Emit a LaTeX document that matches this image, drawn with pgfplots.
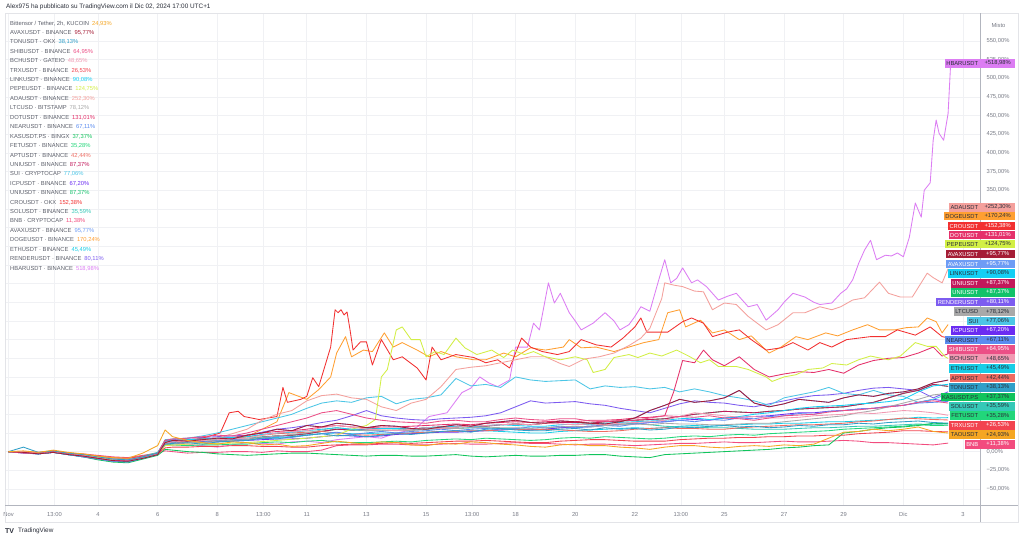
\documentclass[border=0pt]{standalone}
\usepackage{fontspec}
\setmainfont{Liberation Sans}
\usepackage{pgfplots}
\usepackage{pgfplotstable}
\pgfplotsset{compat=1.18}

\definecolor{cTAO}{HTML}{F5A623}
\definecolor{cAVAXr}{HTML}{A51D36}
\definecolor{cAVAXb}{HTML}{6E9CF5}
\definecolor{cTON}{HTML}{2F9FC8}
\definecolor{cSHIB}{HTML}{EC4F86}
\definecolor{cBCH}{HTML}{F199B2}
\definecolor{cTRX}{HTML}{F2434F}
\definecolor{cLINK}{HTML}{14CFF5}
\definecolor{cPEPE}{HTML}{D2EF45}
\definecolor{cADA}{HTML}{F4A09C}
\definecolor{cLTC}{HTML}{A9A9A9}
\definecolor{cDOT}{HTML}{E5306A}
\definecolor{cNEAR}{HTML}{5B8CF0}
\definecolor{cKAS}{HTML}{10C45C}
\definecolor{cFET}{HTML}{22D67A}
\definecolor{cAPT}{HTML}{EF6B61}
\definecolor{cUNIr}{HTML}{C2185B}
\definecolor{cSUI}{HTML}{4CC6E6}
\definecolor{cICP}{HTML}{6B2CF2}
\definecolor{cUNIg}{HTML}{12C26A}
\definecolor{cCRO}{HTML}{F23030}
\definecolor{cSOL}{HTML}{35C9B7}
\definecolor{cBNB}{HTML}{F24C7E}
\definecolor{cDOGE}{HTML}{FF9F31}
\definecolor{cETH}{HTML}{17CDE6}
\definecolor{cRENDER}{HTML}{7D5CF0}
\definecolor{cHBAR}{HTML}{DC7DF3}
\definecolor{gridc}{HTML}{F0F1F4}
\definecolor{framec}{HTML}{E3E4E8}
\definecolor{axisc}{HTML}{B2B5BE}
\definecolor{labc}{HTML}{787B86}
\definecolor{legc}{HTML}{5D606B}
\definecolor{titlec}{HTML}{2A2E39}

\newcommand\tvf{\fontsize{5.8}{7}\selectfont}

% ---- data: % change since 1 Nov, x = days since 1 Nov 00:00 ----
\pgfplotstableread[row sep=\\]{d v\\0 0\\0.5 1\\1 -1\\1.5 2\\2 -1\\2.5 -3\\3 -6\\3.5 -8\\4 -9\\4.5 -2\\5 8\\5.25 29\\5.5 20\\6 15\\6.5 12\\7 10\\7.5 13\\8 12\\8.5 9\\9 10\\9.5 7\\10 8\\10.5 11\\11 14\\11.5 12\\12 10\\12.5 13\\13 12\\13.5 9\\14 8\\14.5 11\\15 10\\15.5 13\\16 12\\16.5 10\\17 9\\17.5 7\\18 6\\18.5 9\\19 10\\19.5 8\\20 8\\20.5 6\\21 5\\21.5 3\\22 6\\22.5 8\\23 8\\23.5 6\\24 5\\24.5 7\\25 8\\25.5 7\\26 9\\26.5 8\\27 10\\27.5 18\\28 26\\28.5 27\\29 30\\29.5 28\\30 30\\30.5 33\\31 27\\31.5 24.9\\}\tTAO
\pgfplotstableread[row sep=\\]{d v\\0 0\\0.5 -1\\1 -3\\1.5 -1\\2 -4\\2.5 -6\\3 -9\\3.5 -12\\4 -13\\4.5 -9\\5 -4\\5.25 12\\5.5 15\\6 14\\6.5 16\\7 18\\7.5 17\\8 22\\8.5 25\\9 30\\9.5 28\\10 35\\10.5 33\\11 38\\11.5 36\\12 32\\12.5 35\\13 34\\13.5 31\\14 30\\14.5 33\\15 36\\15.5 34\\16 38\\16.5 40\\17 42\\17.5 39\\18 38\\18.5 41\\19 40\\19.5 38\\20 37\\20.5 40\\21 45\\21.5 55\\22 62\\22.5 70\\23 66\\23.5 68\\24 72\\24.5 82\\25 65\\25.5 60\\26 64\\26.5 70\\27 68\\27.5 66\\28 72\\28.5 76\\29 74\\29.5 78\\30 80\\30.5 84\\31 92\\31.5 95.8\\}\tAVAX
\pgfplotstableread[row sep=\\]{d v\\0 0\\0.5 6\\1 -1\\1.5 1\\2 -2\\2.5 -4\\3 -7\\3.5 -10\\4 -11\\4.5 -7\\5 -2\\5.25 10\\5.5 11\\6 12\\6.5 10\\7 13\\7.5 14\\8 15\\8.5 18\\9 17\\9.5 20\\10 22\\10.5 24\\11 21\\11.5 22\\12 20\\12.5 22\\13 24\\13.5 23\\14 25\\14.5 27\\15 28\\15.5 26\\16 30\\16.5 31\\17 29\\17.5 28\\18 28\\18.5 30\\19 31\\19.5 29\\20 32\\20.5 30\\21 31\\21.5 29\\22 30\\22.5 33\\23 32\\23.5 34\\24 35\\24.5 33\\25 34\\25.5 32\\26 33\\26.5 35\\27 34\\27.5 36\\28 36\\28.5 38\\29 37\\29.5 39\\30 40\\30.5 41\\31 39\\31.5 38.1\\}\tTON
\pgfplotstableread[row sep=\\]{d v\\0 0\\0.5 -2\\1 -2\\1.5 1\\2 -3\\2.5 -6\\3 -9\\3.5 -12\\4 -12\\4.5 -7\\5 -2\\5.25 15\\5.5 17\\6 18\\6.5 20\\7 22\\7.5 21\\8 25\\8.5 30\\9 35\\9.5 40\\10 45\\10.5 52\\11 55\\11.5 50\\12 45\\12.5 42\\13 40\\13.5 39\\14 38\\14.5 41\\15 42\\15.5 40\\16 40\\16.5 43\\17 45\\17.5 43\\18 42\\18.5 44\\19 44\\19.5 41\\20 40\\20.5 42\\21 42\\21.5 45\\22 48\\22.5 47\\23 46\\23.5 48\\24 45\\24.5 44\\25 42\\25.5 45\\26 48\\26.5 49\\27 50\\27.5 53\\28 55\\28.5 56\\29 58\\29.5 60\\30 62\\30.5 66\\31 68\\31.5 65\\}\tSHIB
\pgfplotstableread[row sep=\\]{d v\\0 0\\0.5 0\\1 -2\\1.5 -1\\2 -2\\2.5 -5\\3 -7\\3.5 -10\\4 -11\\4.5 -7\\5 -3\\5.25 12\\5.5 13\\6 14\\6.5 15\\7 16\\7.5 17\\8 18\\8.5 22\\9 25\\9.5 27\\10 28\\10.5 32\\11 35\\11.5 33\\12 30\\12.5 29\\13 28\\13.5 30\\14 32\\14.5 31\\15 33\\15.5 34\\16 35\\16.5 36\\17 37\\17.5 36\\18 38\\18.5 37\\19 36\\19.5 37\\20 36\\20.5 38\\21 39\\21.5 40\\22 42\\22.5 47\\23 52\\23.5 50\\24 48\\24.5 46\\25 47\\25.5 45\\26 45\\26.5 46\\27 48\\27.5 49\\28 50\\28.5 52\\29 51\\29.5 53\\30 55\\30.5 54\\31 52\\31.5 48.7\\}\tBCH
\pgfplotstableread[row sep=\\]{d v\\0 0\\0.5 -1\\1 -1\\1.5 0\\2 -2\\2.5 -4\\3 -6\\3.5 -8\\4 -9\\4.5 -6\\5 -3\\5.25 5\\5.5 6\\6 6\\6.5 7\\7 7\\7.5 8\\8 8\\8.5 7\\9 7\\9.5 6\\10 6\\10.5 8\\11 9\\11.5 10\\12 10\\12.5 11\\13 12\\13.5 11\\14 12\\14.5 13\\15 14\\15.5 14\\16 15\\16.5 14\\17 13\\17.5 12\\18 12\\18.5 14\\19 15\\19.5 16\\20 16\\20.5 15\\21 14\\21.5 14\\22 14\\22.5 16\\23 17\\23.5 18\\24 18\\24.5 19\\25 19\\25.5 20\\26 20\\26.5 21\\27 21\\27.5 22\\28 22\\28.5 24\\29 25\\29.5 26\\30 28\\30.5 28\\31 27\\31.5 26.5\\}\tTRX
\pgfplotstableread[row sep=\\]{d v\\0 0\\0.5 -1\\1 -3\\1.5 0\\2 -4\\2.5 -6\\3 -9\\3.5 -12\\4 -13\\4.5 -8\\5 -3\\5.25 14\\5.5 15\\6 16\\6.5 17\\7 18\\7.5 19\\8 20\\8.5 23\\9 25\\9.5 26\\10 28\\10.5 30\\11 32\\11.5 30\\12 30\\12.5 31\\13 31\\13.5 30\\14 32\\14.5 33\\15 34\\15.5 33\\16 35\\16.5 36\\17 35\\17.5 34\\18 34\\18.5 36\\19 37\\19.5 36\\20 38\\20.5 39\\21 40\\21.5 41\\22 42\\22.5 44\\23 45\\23.5 43\\24 45\\24.5 47\\25 50\\25.5 52\\26 55\\26.5 58\\27 60\\27.5 61\\28 62\\28.5 64\\29 65\\29.5 67\\30 70\\30.5 80\\31 88\\31.5 90.1\\}\tLINK
\pgfplotstableread[row sep=\\]{d v\\0 0\\0.5 -1\\1 -2\\1.5 0\\2 -2\\2.5 -4\\3 -7\\3.5 -9\\4 -10\\4.5 -7\\5 -2\\5.25 10\\5.5 11\\6 12\\6.5 12\\7 14\\7.5 15\\8 16\\8.5 19\\9 21\\9.5 23\\10 25\\10.5 29\\11 32\\11.5 30\\12 28\\12.5 29\\13 29\\13.5 28\\14 30\\14.5 31\\15 31\\15.5 32\\16 33\\16.5 32\\17 32\\17.5 31\\18 32\\18.5 33\\19 34\\19.5 33\\20 35\\20.5 36\\21 37\\21.5 36\\22 38\\22.5 37\\23 37\\23.5 36\\24 36\\24.5 37\\25 38\\25.5 38\\26 40\\26.5 42\\27 44\\27.5 46\\28 48\\28.5 52\\29 55\\29.5 60\\30 65\\30.5 70\\31 76\\31.5 78.1\\}\tLTC
\pgfplotstableread[row sep=\\]{d v\\0 0\\0.5 -2\\1 -3\\1.5 -1\\2 -4\\2.5 -7\\3 -10\\3.5 -13\\4 -14\\4.5 -9\\5 -4\\5.25 12\\5.5 13\\6 14\\6.5 13\\7 15\\7.5 16\\8 16\\8.5 18\\9 20\\9.5 19\\10 22\\10.5 24\\11 26\\11.5 23\\12 25\\12.5 27\\13 25\\13.5 27\\14 28\\14.5 30\\15 28\\15.5 30\\16 31\\16.5 29\\17 31\\17.5 33\\18 32\\18.5 34\\19 32\\19.5 33\\20 35\\20.5 34\\21 37\\21.5 39\\22 40\\22.5 42\\23 40\\23.5 43\\24 42\\24.5 45\\25 44\\25.5 47\\26 48\\26.5 51\\27 50\\27.5 54\\28 55\\28.5 57\\29 58\\29.5 61\\30 62\\30.5 65\\31 66\\31.5 67.1\\}\tNEAR
\pgfplotstableread[row sep=\\]{d v\\0 0\\0.5 -1\\1 -3\\1.5 -1\\2 -4\\2.5 -7\\3 -11\\3.5 -14\\4 -15\\4.5 -10\\5 -5\\5.25 3\\5.5 2\\6 0\\6.5 -1\\7 -3\\7.5 -4\\8 -5\\8.5 -4\\9 -3\\9.5 -2\\10 -2\\10.5 -3\\11 -4\\11.5 -5\\12 -6\\12.5 -5\\13 -5\\13.5 -6\\14 -6\\14.5 -5\\15 -4\\15.5 -6\\16 -7\\16.5 -6\\17 -5\\17.5 -6\\18 -6\\18.5 -5\\19 -5\\19.5 -4\\20 -4\\20.5 -6\\21 -7\\21.5 -8\\22 -4\\22.5 -3\\23 -2\\23.5 -1\\24 0\\24.5 1\\25 2\\25.5 3\\26 5\\26.5 6\\27 8\\27.5 9\\28 25\\28.5 27\\29 30\\29.5 32\\30 33\\30.5 35\\31 38\\31.5 37.4\\}\tKAS
\pgfplotstableread[row sep=\\]{d v\\0 0\\0.5 -1\\1 -2\\1.5 0\\2 -3\\2.5 -6\\3 -9\\3.5 -12\\4 -13\\4.5 -9\\5 -4\\5.25 10\\5.5 9\\6 8\\6.5 9\\7 9\\7.5 10\\8 10\\8.5 12\\9 13\\9.5 12\\10 14\\10.5 15\\11 13\\11.5 12\\12 12\\12.5 13\\13 14\\13.5 13\\14 15\\14.5 16\\15 17\\15.5 16\\16 18\\16.5 17\\17 16\\17.5 15\\18 16\\18.5 18\\19 19\\19.5 18\\20 20\\20.5 19\\21 18\\21.5 17\\22 18\\22.5 20\\23 21\\23.5 20\\24 22\\24.5 23\\25 22\\25.5 24\\26 25\\26.5 26\\27 27\\27.5 28\\28 30\\28.5 31\\29 32\\29.5 33\\30 34\\30.5 36\\31 35\\31.5 35.3\\}\tFET
\pgfplotstableread[row sep=\\]{d v\\0 0\\0.5 -1\\1 -2\\1.5 1\\2 -2\\2.5 -5\\3 -8\\3.5 -10\\4 -11\\4.5 -7\\5 -2\\5.25 14\\5.5 15\\6 16\\6.5 17\\7 18\\7.5 18\\8 20\\8.5 22\\9 24\\9.5 25\\10 26\\10.5 27\\11 25\\11.5 23\\12 22\\12.5 23\\13 24\\13.5 25\\14 26\\14.5 27\\15 27\\15.5 28\\16 28\\16.5 29\\17 30\\17.5 29\\18 30\\18.5 29\\19 28\\19.5 27\\20 27\\20.5 28\\21 30\\21.5 31\\22 32\\22.5 31\\23 31\\23.5 30\\24 30\\24.5 32\\25 33\\25.5 34\\26 35\\26.5 36\\27 36\\27.5 37\\28 38\\28.5 40\\29 41\\29.5 43\\30 45\\30.5 44\\31 43\\31.5 42.4\\}\tAPT
\pgfplotstableread[row sep=\\]{d v\\0 0\\0.5 -1\\1 -2\\1.5 -1\\2 -3\\2.5 -5\\3 -8\\3.5 -10\\4 -12\\4.5 -8\\5 -3\\5.25 10\\5.5 11\\6 12\\6.5 13\\7 14\\7.5 15\\8 16\\8.5 19\\9 21\\9.5 22\\10 24\\10.5 27\\11 30\\11.5 29\\12 30\\12.5 31\\13 31\\13.5 30\\14 32\\14.5 33\\15 33\\15.5 34\\16 34\\16.5 36\\17 37\\17.5 36\\18 38\\18.5 39\\19 39\\19.5 38\\20 40\\20.5 41\\21 42\\21.5 43\\22 44\\22.5 47\\23 50\\23.5 52\\24 54\\24.5 53\\25 52\\25.5 54\\26 55\\26.5 57\\27 58\\27.5 59\\28 60\\28.5 63\\29 66\\29.5 72\\30 78\\30.5 82\\31 90\\31.5 87.4\\}\tUNI
\pgfplotstableread[row sep=\\]{d v\\0 0\\0.5 -1\\1 -2\\1.5 0\\2 -3\\2.5 -5\\3 -8\\3.5 -11\\4 -12\\4.5 -7\\5 -2\\5.25 16\\5.5 17\\6 18\\6.5 21\\7 25\\7.5 30\\8 35\\8.5 40\\9 45\\9.5 50\\10 58\\10.5 65\\11 68\\11.5 66\\12 72\\12.5 74\\13 64\\13.5 70\\14 72\\14.5 76\\15 98\\15.5 88\\16 90\\16.5 86\\17 100\\17.5 96\\18 94\\18.5 95\\19 96\\19.5 84\\20 88\\20.5 86\\21 87\\21.5 84\\22 86\\22.5 80\\23 84\\23.5 80\\24 75\\24.5 72\\25 68\\25.5 62\\26 72\\26.5 76\\27 80\\27.5 86\\28 78\\28.5 76\\29 82\\29.5 76\\30 74\\30.5 66\\31 70\\31.5 77.1\\}\tSUI
\pgfplotstableread[row sep=\\]{d v\\0 0\\0.5 -1\\1 -3\\1.5 -1\\2 -3\\2.5 -6\\3 -9\\3.5 -12\\4 -13\\4.5 -9\\5 -4\\5.25 10\\5.5 11\\6 12\\6.5 13\\7 13\\7.5 14\\8 15\\8.5 16\\9 17\\9.5 17\\10 18\\10.5 20\\11 22\\11.5 21\\12 20\\12.5 21\\13 23\\13.5 24\\14 25\\14.5 26\\15 26\\15.5 27\\16 28\\16.5 29\\17 30\\17.5 29\\18 30\\18.5 32\\19 33\\19.5 34\\20 35\\20.5 36\\21 37\\21.5 39\\22 40\\22.5 42\\23 43\\23.5 42\\24 45\\24.5 46\\25 47\\25.5 48\\26 50\\26.5 52\\27 52\\27.5 54\\28 55\\28.5 57\\29 58\\29.5 60\\30 62\\30.5 66\\31 70\\31.5 67.2\\}\tICP
\pgfplotstableread[row sep=\\]{d v\\0 0\\0.5 -1\\1 -2\\1.5 0\\2 -2\\2.5 -4\\3 -7\\3.5 -9\\4 -10\\4.5 -6\\5 -1\\5.25 14\\5.5 14\\6 15\\6.5 16\\7 16\\7.5 17\\8 18\\8.5 20\\9 21\\9.5 22\\10 24\\10.5 27\\11 30\\11.5 29\\12 28\\12.5 28\\13 29\\13.5 29\\14 30\\14.5 31\\15 31\\15.5 32\\16 32\\16.5 31\\17 31\\17.5 30\\18 30\\18.5 32\\19 33\\19.5 34\\20 35\\20.5 37\\21 38\\21.5 36\\22 34\\22.5 33\\23 33\\23.5 32\\24 32\\24.5 31\\25 30\\25.5 30\\26 30\\26.5 31\\27 32\\27.5 32\\28 33\\28.5 34\\29 34\\29.5 35\\30 36\\30.5 37\\31 36\\31.5 35.6\\}\tSOL
\pgfplotstableread[row sep=\\]{d v\\0 0\\0.5 0\\1 -1\\1.5 0\\2 -2\\2.5 -3\\3 -5\\3.5 -7\\4 -8\\4.5 -5\\5 -2\\5.25 1\\5.5 0\\6 -2\\6.5 -1\\7 -1\\7.5 0\\8 0\\8.5 -1\\9 1\\9.5 0\\10 0\\10.5 2\\11 8\\11.5 9\\12 9\\12.5 10\\13 10\\13.5 9\\14 9\\14.5 10\\15 11\\15.5 10\\16 10\\16.5 11\\17 12\\17.5 11\\18 11\\18.5 10\\19 9\\19.5 10\\20 10\\20.5 9\\21 8\\21.5 9\\22 10\\22.5 11\\23 11\\23.5 12\\24 13\\24.5 12\\25 12\\25.5 13\\26 14\\26.5 13\\27 13\\27.5 14\\28 15\\28.5 14\\29 12\\29.5 12\\30 11\\30.5 10\\31 9\\31.5 11.4\\}\tBNB
\pgfplotstableread[row sep=\\]{d v\\0 0\\0.5 -1\\1 -2\\1.5 0\\2 -3\\2.5 -5\\3 -8\\3.5 -10\\4 -11\\4.5 -7\\5 -3\\5.25 12\\5.5 12\\6 14\\6.5 14\\7 15\\7.5 15\\8 16\\8.5 18\\9 19\\9.5 20\\10 22\\10.5 24\\11 25\\11.5 24\\12 24\\12.5 25\\13 25\\13.5 25\\14 26\\14.5 27\\15 27\\15.5 28\\16 28\\16.5 27\\17 26\\17.5 25\\18 25\\18.5 27\\19 28\\19.5 29\\20 30\\20.5 31\\21 32\\21.5 31\\22 32\\22.5 34\\23 35\\23.5 34\\24 35\\24.5 36\\25 37\\25.5 37\\26 38\\26.5 38\\27 39\\27.5 40\\28 40\\28.5 41\\29 42\\29.5 43\\30 44\\30.5 46\\31 45\\31.5 45.5\\}\tETH
\pgfplotstableread[row sep=\\]{d v\\0 0\\0.5 -2\\1 -3\\1.5 -1\\2 -4\\2.5 -7\\3 -10\\3.5 -13\\4 -14\\4.5 -9\\5 -4\\5.25 15\\5.5 16\\6 18\\6.5 19\\7 20\\7.5 21\\8 22\\8.5 26\\9 30\\9.5 32\\10 35\\10.5 39\\11 42\\11.5 48\\12 55\\12.5 48\\13 45\\13.5 43\\14 42\\14.5 44\\15 45\\15.5 46\\16 48\\16.5 52\\17 60\\17.5 68\\18 65\\18.5 66\\19 67\\19.5 64\\20 62\\20.5 58\\21 55\\21.5 52\\22 58\\22.5 64\\23 68\\23.5 66\\24 65\\24.5 62\\25 60\\25.5 64\\26 68\\26.5 72\\27 75\\27.5 76\\28 78\\28.5 82\\29 85\\29.5 86\\30 84\\30.5 82\\31 72\\31.5 80.1\\}\tRENDER
\pgfplotstableread[row sep=\\]{d v\\0 0\\0.5 -1\\1 -2\\1.5 0\\2 -3\\2.5 -6\\3 -9\\3.5 -11\\4 -12\\4.5 -8\\5 -3\\5.25 15\\5.5 15\\6 16\\6.5 17\\7 18\\7.5 19\\8 22\\8.5 25\\9 27\\9.5 28\\10 30\\10.5 33\\11 35\\11.5 33\\12 32\\12.5 33\\13 33\\13.5 34\\14 35\\14.5 36\\15 37\\15.5 36\\16 38\\16.5 39\\17 40\\17.5 39\\18 40\\18.5 41\\19 40\\19.5 42\\20 42\\20.5 43\\21 45\\21.5 46\\22 48\\22.3 80\\22.6 122\\23 119\\23.3 136\\23.6 123\\24 115\\24.5 127\\25 110\\25.5 100\\26 104\\26.5 107\\27 106\\27.5 110\\28 105\\28.5 116\\29 122\\29.5 125\\30 126\\30.5 132\\31 140\\31.3 128\\31.5 131\\}\tDOT
\pgfplotstableread[row sep=\\]{d v\\0 0\\0.5 -1\\1 -2\\1.5 0\\2 -3\\2.5 -5\\3 -8\\3.5 -11\\4 -12\\4.5 -8\\5 -3\\5.25 8\\6 10\\6.5 8\\7 6\\7.5 9\\8 12\\8.5 11\\9 10\\9.5 13\\10 14\\10.5 12\\11 16\\11.5 18\\12 20\\12.5 18\\13 25\\13.4 28\\13.7 33\\14.1 47\\14.7 52\\15.2 79\\15.5 85\\15.8 100\\16.1 92\\16.4 87\\16.8 96\\17.0 140\\17.4 140\\17.6 172\\17.8 163\\18.1 226\\18.3 199\\18.5 212\\18.8 186\\19.0 175\\19.2 163\\19.6 172\\20.0 186\\20.3 175\\20.5 163\\20.8 170\\21.0 181\\21.2 194\\21.5 188\\21.8 230\\22.0 257\\22.2 226\\22.4 232\\22.6 246\\22.9 226\\23.1 230\\23.4 221\\23.8 203\\24.1 208\\24.4 212\\24.8 194\\25.1 197\\25.4 176\\25.8 190\\26.0 200\\26.3 212\\26.7 207\\27.0 200\\27.2 197\\27.6 199\\27.9 212\\28.1 218\\28.3 230\\28.5 252\\28.7 270\\28.9 283\\29.1 257\\29.4 263\\29.6 262\\29.8 266\\30.0 261\\30.2 287\\30.4 333\\30.6 314\\30.7 350\\30.9 360\\31.0 417\\31.1 444\\31.2 426\\31.35 417\\31.5 453\\31.58 515\\31.62 519\\}\tHBAR
\pgfplotstableread[row sep=\\]{d v\\0 0\\0.5 -1\\1 -2\\1.5 0\\2 -3\\2.5 -5\\3 -8\\3.5 -11\\4 -12\\4.5 -8\\5 -3\\5.25 12\\6 15\\6.5 18\\7.1 25\\7.4 52\\7.7 54\\7.9 47\\8.4 43\\9.0 47\\9.2 86\\9.35 66\\9.8 70\\10.0 74\\10.2 99\\10.4 87\\10.8 140\\10.95 190\\11.05 186\\11.15 190\\11.25 183\\11.35 187\\11.45 163\\11.55 136\\11.8 147\\12.0 147\\12.2 116\\12.5 150\\12.9 123\\13.2 127\\13.7 112\\14.0 96\\14.2 140\\14.5 123\\15.0 130\\15.6 126\\16.0 119\\16.4 123\\16.8 112\\17.2 152\\17.5 140\\17.9 134\\18.4 130\\18.8 134\\19.2 150\\19.7 143\\20.2 140\\20.6 152\\21.0 167\\21.2 179\\21.4 160\\21.8 160\\22.1 160\\22.6 174\\22.9 179\\23.3 172\\23.6 154\\24.1 160\\24.5 163\\24.9 150\\25.4 136\\25.9 139\\26.3 146\\26.8 136\\27.2 146\\27.6 140\\28.1 150\\28.5 152\\28.9 154\\29.4 154\\29.8 163\\30.4 156\\30.9 167\\31.3 154\\31.5 152.4\\}\tCRO
\pgfplotstableread[row sep=\\]{d v\\0 0\\0.5 -1\\1 -2\\1.5 0\\2 -3\\2.5 -5\\3 -8\\3.5 -11\\4 -12\\4.5 -8\\5 -3\\5.25 10\\6 12\\7 15\\8 20\\8.5 30\\9 40\\9.4 79\\10 70\\10.4 83\\10.8 100\\11.0 132\\11.3 154\\11.5 127\\11.9 136\\12.2 134\\12.6 159\\12.9 140\\13.2 146\\13.7 136\\14.1 127\\14.5 134\\15.0 127\\15.6 123\\16.0 123\\16.6 132\\17.0 127\\17.5 139\\18.0 136\\18.6 140\\18.8 150\\19.2 139\\19.7 140\\20.3 134\\20.8 140\\21.3 146\\21.8 150\\22.1 186\\22.5 190\\22.7 167\\23.2 176\\23.6 159\\24.0 163\\24.5 150\\24.9 155\\25.5 132\\25.9 140\\26.4 154\\26.8 150\\27.4 159\\27.8 155\\28.3 163\\28.8 170\\29.2 163\\29.7 163\\30.1 166\\30.5 167\\30.8 179\\31.1 174\\31.3 159\\31.5 170.2\\}\tDOGE
\pgfplotstableread[row sep=\\]{d v\\0 0\\0.5 -1\\1 -2\\1.5 0\\2 -3\\2.5 -5\\3 -8\\3.5 -11\\4 -12\\4.5 -8\\5 -3\\5.25 10\\6 12\\7 18\\8 30\\8.5 42\\9 50\\9.5 55\\10 68\\10.5 75\\11 77\\11.5 72\\12 70\\12.5 60\\13 55\\13.5 65\\14 70\\14.5 87\\15 110\\15.5 113\\16 115\\16.5 119\\17 123\\17.5 127\\18 127\\18.5 118\\18.8 114\\19.3 124\\19.8 127\\20.3 132\\20.8 142\\21.2 152\\21.5 165\\21.7 185\\21.9 205\\22.0 226\\22.3 223\\22.6 221\\23.0 215\\23.3 214\\23.6 190\\24.0 199\\24.4 197\\24.8 181\\25.4 163\\25.8 170\\26.3 186\\26.7 186\\27.2 194\\27.6 190\\27.9 194\\28.3 203\\28.7 206\\29.2 227\\29.5 212\\29.9 207\\30.3 207\\30.8 239\\31.0 233\\31.3 226\\31.5 245\\}\tADA
\pgfplotstableread[row sep=\\]{d v\\0 0\\0.5 -1\\1 -2\\1.5 0\\2 -3\\2.5 -5\\3 -8\\3.5 -11\\4 -12\\4.5 -8\\5 -3\\5.25 8\\6 10\\7 11\\8 12\\9 15\\10 18\\11 22\\11.5 30\\12 35\\12.3 43\\12.5 100\\12.7 110\\13.0 163\\13.2 167\\13.5 150\\13.8 150\\14.0 127\\14.3 134\\14.6 130\\15.0 152\\15.3 139\\15.7 130\\16.2 136\\16.6 126\\16.9 136\\17.3 130\\17.6 134\\18.0 127\\18.5 123\\19.0 127\\19.4 123\\19.6 106\\20.0 110\\20.3 126\\20.8 130\\21.1 126\\21.5 132\\21.9 128\\22.4 136\\22.8 128\\23.2 119\\23.5 123\\23.8 114\\24.4 114\\24.8 110\\25.4 100\\25.6 94\\26.0 100\\26.4 103\\26.8 110\\27.3 112\\27.6 118\\28.1 116\\28.5 123\\28.9 128\\29.5 123\\29.9 128\\30.4 146\\30.8 141\\31.1 141\\31.4 127\\31.5 124.8\\}\tPEPE

% right-hand value tags: y (px from top), name, value, fill, text colour
\newcommand\tag[5]{%
  \node[fill=#4, text=#5, anchor=east, inner xsep=1.6pt, inner ysep=0pt,
        minimum height=8.8pt, font=\tvf] at (980pt,-#1pt) {#2};
  \node[fill=#4, text=#5, anchor=west, inner sep=0pt, minimum width=35pt,
        minimum height=8.8pt, font=\tvf] at (980pt,-#1pt) {#3};}
% legend rows
\newcommand\leg[4]{%
  \node[anchor=west, inner sep=0pt, font=\tvf, text=legc] at (10pt,-#1pt)
    {#2\hspace{3pt}\textcolor{#4}{#3}};}

\begin{document}
\begin{tikzpicture}
\path[fill=white] (0pt,0pt) rectangle (1024pt,-541pt);
\begin{axis}[
    at={(6pt,-505pt)}, anchor=south west,
    scale only axis, width=974pt, height=492pt,
    xmin=-0.084, xmax=32.57, ymin=-71.5, ymax=587.4,
    axis line style={draw=none},
    tick style={draw=none},
    grid=major,
    grid style={draw=gridc, line width=0.7pt},
    xtick={0,1.5417,3,5,7,8.5417,10,12,14,15.5417,17,19,21,22.5417,24,26,28,30,32},
    xticklabels={Nov,13:00,4,6,8,13:00,11,13,15,13:00,18,20,22,13:00,25,27,29,Dic,3},
    xticklabel style={font=\tvf, text=labc, anchor=base, yshift=-11pt},
    ytick={-50,-25,...,550},
    yticklabels={{−50,00\%},{−25,00\%},{0,00\%},{},{},{},{},{},{},{},{},{},{},{},{},{},{350,00\%},{375,00\%},{400,00\%},{425,00\%},{450,00\%},{475,00\%},{500,00\%},{525,00\%},{550,00\%}},
    yticklabel pos=right,
    yticklabel style={font=\tvf, text=labc, anchor=west, xshift=3pt},
    every axis plot/.append style={line width=0.85pt, mark=none, line join=round},
]
% drawn from the last legend entry up, so earlier entries sit on top
\addplot[cHBAR]   table[x=d,y=v]{\tHBAR};
\addplot[cRENDER] table[x=d,y=v]{\tRENDER};
\addplot[cETH]    table[x=d,y=v]{\tETH};
\addplot[cDOGE]   table[x=d,y=v]{\tDOGE};
\addplot[cAVAXb]  table[x=d,y=v]{\tAVAX};
\addplot[cBNB]    table[x=d,y=v]{\tBNB};
\addplot[cSOL]    table[x=d,y=v]{\tSOL};
\addplot[cCRO]    table[x=d,y=v]{\tCRO};
\addplot[cUNIg]   table[x=d,y=v]{\tUNI};
\addplot[cICP]    table[x=d,y=v]{\tICP};
\addplot[cSUI]    table[x=d,y=v]{\tSUI};
\addplot[cUNIr]   table[x=d,y=v]{\tUNI};
\addplot[cAPT]    table[x=d,y=v]{\tAPT};
\addplot[cFET]    table[x=d,y=v]{\tFET};
\addplot[cKAS]    table[x=d,y=v]{\tKAS};
\addplot[cNEAR]   table[x=d,y=v]{\tNEAR};
\addplot[cDOT]    table[x=d,y=v]{\tDOT};
\addplot[cLTC]    table[x=d,y=v]{\tLTC};
\addplot[cADA]    table[x=d,y=v]{\tADA};
\addplot[cPEPE]   table[x=d,y=v]{\tPEPE};
\addplot[cLINK]   table[x=d,y=v]{\tLINK};
\addplot[cTRX]    table[x=d,y=v]{\tTRX};
\addplot[cBCH]    table[x=d,y=v]{\tBCH};
\addplot[cSHIB]   table[x=d,y=v]{\tSHIB};
\addplot[cTON]    table[x=d,y=v]{\tTON};
\addplot[cAVAXr]  table[x=d,y=v]{\tAVAX};
\addplot[cTAO]    table[x=d,y=v]{\tTAO};
\end{axis}

% frame
\draw[framec, line width=0.6pt] (5pt,-13pt) rectangle (1018pt,-522pt);
\draw[axisc, line width=0.8pt] (980pt,-13pt) -- (980pt,-522pt);
\draw[axisc, line width=0.8pt] (5pt,-505pt) -- (1018pt,-505pt);
\node[anchor=west, font=\tvf, text=labc] at (988pt,-25pt) {Misto};

% title and footer
\node[anchor=west, inner sep=0pt, font=\fontsize{6.4}{8}\selectfont, text=titlec] at (6pt,-7pt)
  {Alex975 ha pubblicato su TradingView.com il Dic 02, 2024 17:00 UTC+1};
\node[anchor=west, inner sep=0pt, font=\fontsize{7}{8}\selectfont\bfseries, text=titlec] at (5pt,-531pt) {TV};
\node[anchor=west, inner sep=0pt, font=\fontsize{6.4}{8}\selectfont, text=titlec] at (18pt,-531pt) {TradingView};

% legend
\leg{23.3}{Bittensor / Tether, 2h, KUCOIN}{24,93\%}{cTAO}
\leg{32.7}{AVAXUSDT · BINANCE}{95,77\%}{cAVAXr}
\leg{42.3}{TONUSDT · OKX}{38,13\%}{cTON}
\leg{51.7}{SHIBUSDT · BINANCE}{64,95\%}{cSHIB}
\leg{61.3}{BCHUSDT · GATEIO}{48,65\%}{cBCH}
\leg{70.7}{TRXUSDT · BINANCE}{26,53\%}{cTRX}
\leg{80.0}{LINKUSDT · BINANCE}{90,08\%}{cLINK}
\leg{89.3}{PEPEUSDT · BINANCE}{124,75\%}{cPEPE}
\leg{99.0}{ADAUSDT · BINANCE}{252,30\%}{cADA}
\leg{108.3}{LTCUSD · BITSTAMP}{78,12\%}{cLTC}
\leg{118.0}{DOTUSDT · BINANCE}{131,01\%}{cDOT}
\leg{127.3}{NEARUSDT · BINANCE}{67,11\%}{cNEAR}
\leg{136.7}{KASUSDT.PS · BINGX}{37,37\%}{cKAS}
\leg{146.3}{FETUSDT · BINANCE}{35,28\%}{cFET}
\leg{155.7}{APTUSDT · BINANCE}{42,44\%}{cAPT}
\leg{165.0}{UNIUSDT · BINANCE}{87,37\%}{cUNIr}
\leg{174.3}{SUI · CRYPTOCAP}{77,06\%}{cSUI}
\leg{184.0}{ICPUSDT · BINANCE}{67,20\%}{cICP}
\leg{193.3}{UNIUSDT · BINANCE}{87,37\%}{cUNIg}
\leg{202.7}{CROUSDT · OKX}{152,38\%}{cCRO}
\leg{212.0}{SOLUSDT · BINANCE}{35,59\%}{cSOL}
\leg{221.3}{BNB · CRYPTOCAP}{11,38\%}{cBNB}
\leg{231.0}{AVAXUSDT · BINANCE}{95,77\%}{cAVAXb}
\leg{240.3}{DOGEUSDT · BINANCE}{170,24\%}{cDOGE}
\leg{249.7}{ETHUSDT · BINANCE}{45,49\%}{cETH}
\leg{259.0}{RENDERUSDT · BINANCE}{80,11\%}{cRENDER}
\leg{268.7}{HBARUSDT · BINANCE}{518,98\%}{cHBAR}

% value tags on the price scale
\tag{63.3}{HBARUSDT}{+518,98\%}{cHBAR}{titlec}
\tag{207.3}{ADAUSDT}{+252,30\%}{cADA}{titlec}
\tag{216.0}{DOGEUSDT}{+170,24\%}{cDOGE}{titlec}
\tag{226.0}{CROUSDT}{+152,38\%}{cCRO}{white}
\tag{235.0}{DOTUSDT}{+131,01\%}{cDOT}{white}
\tag{244.0}{PEPEUSDT}{+124,75\%}{cPEPE}{titlec}
\tag{254.0}{AVAXUSDT}{+95,77\%}{cAVAXr}{white}
\tag{264.0}{AVAXUSDT}{+95,77\%}{cAVAXb}{white}
\tag{273.3}{LINKUSDT}{+90,08\%}{cLINK}{titlec}
\tag{283.3}{UNIUSDT}{+87,37\%}{cUNIr}{white}
\tag{292.3}{UNIUSDT}{+87,37\%}{cUNIg}{white}
\tag{302.0}{RENDERUSDT}{+80,11\%}{cRENDER}{white}
\tag{311.7}{LTCUSD}{+78,12\%}{cLTC}{titlec}
\tag{321.0}{SUI}{+77,06\%}{cSUI}{titlec}
\tag{330.3}{ICPUSDT}{+67,20\%}{cICP}{white}
\tag{340.0}{NEARUSDT}{+67,11\%}{cNEAR}{titlec}
\tag{349.3}{SHIBUSDT}{+64,95\%}{cSHIB}{white}
\tag{358.7}{BCHUSDT}{+48,65\%}{cBCH}{titlec}
\tag{368.3}{ETHUSDT}{+45,49\%}{cETH}{titlec}
\tag{378.0}{APTUSDT}{+42,44\%}{cAPT}{titlec}
\tag{387.3}{TONUSDT}{+38,13\%}{cTON}{titlec}
\tag{397.0}{KASUSDT.PS}{+37,37\%}{cKAS}{titlec}
\tag{406.3}{SOLUSDT}{+35,59\%}{cSOL}{titlec}
\tag{415.7}{FETUSDT}{+35,28\%}{cFET}{titlec}
\tag{425.3}{TRXUSDT}{+26,53\%}{cTRX}{white}
\tag{434.7}{TAOUSDT}{+24,93\%}{cTAO}{titlec}
\tag{444.3}{BNB}{+11,38\%}{cBNB}{white}
\end{tikzpicture}
\end{document}
